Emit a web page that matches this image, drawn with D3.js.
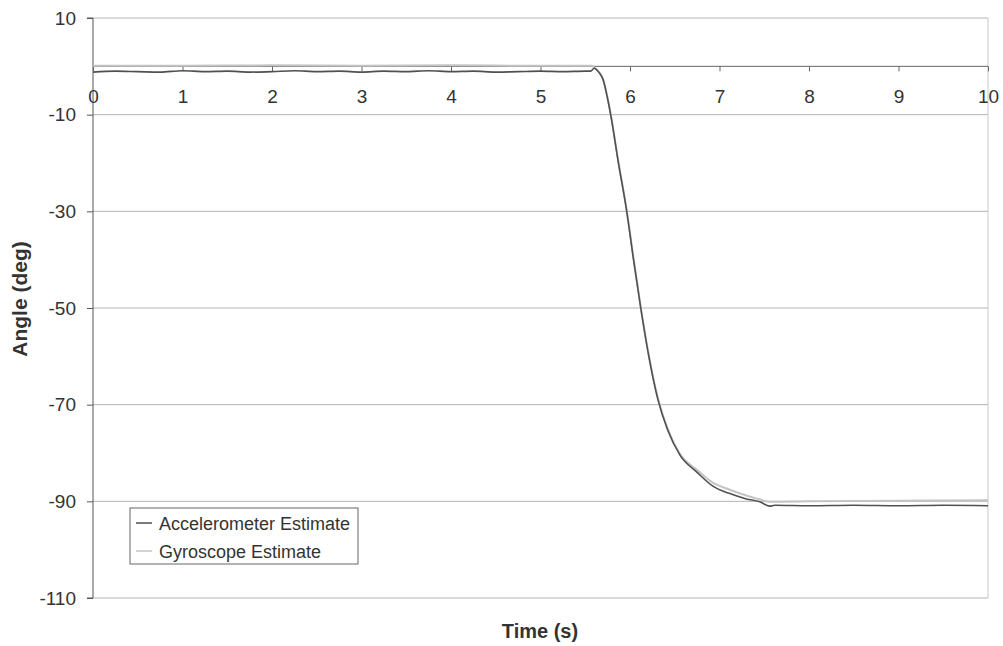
<!DOCTYPE html>
<html>
<head>
<meta charset="utf-8">
<script src="https://cdn.jsdelivr.net/npm/d3@7"></script>
<style>
  html, body { margin: 0; padding: 0; background: #fff; }
  svg { display: block; font-family: "Liberation Sans", Arial, sans-serif; }
</style>
</head>
<body>
<svg id="chart" width="1003" height="646"></svg>
<script>
// Tilt angle estimates over a 10 s recording
const accelTime = [0, 0.25, 0.5, 0.75, 1, 1.25, 1.5, 1.75, 2, 2.25, 2.5, 2.75, 3, 3.25, 3.5, 3.75, 4, 4.25, 4.5, 4.75, 5, 5.25, 5.5, 5.56, 5.6, 5.65, 5.70, 5.745, 5.784, 5.87, 5.963, 6.04, 6.12, 6.21, 6.313, 6.42, 6.56, 6.75, 6.93, 7.1, 7.3, 7.45, 7.56, 7.62, 8, 8.5, 9, 9.5, 10];
const accelAngle = [-1.2, -1.0, -1.1, -1.2, -0.9, -1.1, -1.0, -1.2, -1.1, -0.9, -1.1, -1.0, -1.2, -1.0, -1.1, -0.9, -1.1, -1.0, -1.2, -1.1, -1.0, -1.1, -1.0, -1.0, -0.4, -1.2, -2.8, -6.3, -10.0, -19.9, -30.0, -40.1, -50.0, -60.0, -69.0, -75.2, -80.5, -84.0, -86.9, -88.3, -89.5, -90.1, -91.0, -90.8, -90.9, -90.8, -90.9, -90.8, -90.9];

const gyroTime = [0, 1, 2, 3, 4, 5, 5.57, 5.6, 5.65, 5.70, 5.745, 5.784, 5.87, 5.963, 6.04, 6.12, 6.21, 6.313, 6.42, 6.56, 6.75, 6.93, 7.1, 7.3, 7.45, 7.56, 8, 9, 10];
const gyroAngle = [0.1, 0.1, 0.2, 0.1, 0.2, 0.1, 0.1, -0.3, -1.1, -2.7, -6.1, -9.8, -19.7, -29.7, -39.7, -49.8, -59.7, -68.8, -74.9, -80.2, -83.5, -86.2, -87.5, -88.8, -89.6, -90.1, -90.0, -89.9, -89.8];

const xTicks = [0, 1, 2, 3, 4, 5, 6, 7, 8, 9, 10];
const yTicks = [10, -10, -30, -50, -70, -90, -110];

const seriesNames = ["Accelerometer Estimate", "Gyroscope Estimate"];
const seriesColors = ["#505050", "#c4c4c4"];

const svg = d3.select("#chart");
const plotLeft = 93, plotRight = 988, plotTop = 18, plotBottom = 598;

const x = d3.scaleLinear().domain([0, 10]).range([plotLeft, plotRight]);
const y = d3.scaleLinear().domain([-110, 10]).range([plotBottom, plotTop]);

const plainNumber = d => String(d);

// horizontal gridlines
svg.append("g").selectAll("line").data(yTicks).join("line")
  .attr("x1", plotLeft).attr("x2", plotRight)
  .attr("y1", d => y(d)).attr("y2", d => y(d))
  .attr("stroke", "#b4b4b4").attr("stroke-width", 1);

// right frame edge
svg.append("line")
  .attr("x1", plotRight).attr("x2", plotRight).attr("y1", plotTop).attr("y2", plotBottom)
  .attr("stroke", "#c8c8c8").attr("stroke-width", 1);

// y axis
const yAxis = d3.axisLeft(y).tickValues(yTicks).tickSize(6).tickPadding(11).tickFormat(plainNumber);
const gy = svg.append("g").attr("transform", `translate(${plotLeft},0)`).call(yAxis);
gy.select(".domain").attr("stroke", "#555").attr("d", `M-6,${plotTop}H0V${plotBottom}H-6`);
gy.selectAll(".tick line").attr("stroke", "#555");
gy.selectAll(".tick text").attr("font-size", 19).attr("fill", "#333")
  .attr("font-family", "Liberation Sans, Arial, sans-serif");

// x axis crossing at zero
const xAxis = d3.axisBottom(x).tickValues(xTicks).tickSize(5).tickPadding(18).tickFormat(plainNumber);
const gx = svg.append("g").attr("transform", `translate(0,${y(0)})`).call(xAxis);
gx.select(".domain").attr("stroke", "#666").attr("d", `M${plotLeft},0H${plotRight}`);
gx.selectAll(".tick line").attr("stroke", "#666");
gx.selectAll(".tick text").attr("font-size", 19).attr("fill", "#333")
  .attr("font-family", "Liberation Sans, Arial, sans-serif");

// series lines
const line = d3.line().x(d => x(d[0])).y(d => y(d[1])).curve(d3.curveMonotoneX);
const gyroPts = d3.zip(gyroTime, gyroAngle);
const accelPts = d3.zip(accelTime, accelAngle);

svg.append("path").datum(gyroPts).attr("d", line)
  .attr("fill", "none").attr("stroke", seriesColors[1]).attr("stroke-width", 2);
svg.append("path").datum(accelPts).attr("d", line)
  .attr("fill", "none").attr("stroke", seriesColors[0]).attr("stroke-width", 1.6);

// axis titles
svg.append("text").attr("x", 540).attr("y", 638).attr("text-anchor", "middle")
  .attr("font-size", 20).attr("font-weight", "bold").attr("fill", "#333").text("Time (s)");
svg.append("text").attr("transform", "translate(27,299) rotate(-90)").attr("text-anchor", "middle")
  .attr("font-size", 21).attr("font-weight", "bold").attr("fill", "#333").text("Angle (deg)");

// legend
const lg = svg.append("g").attr("transform", "translate(130,508)");
lg.append("rect").attr("width", 228).attr("height", 56)
  .attr("fill", "#fff").attr("stroke", "#666").attr("stroke-width", 1);
seriesNames.forEach((name, i) => {
  const cy = 15 + i * 28;
  lg.append("line").attr("x1", 6).attr("x2", 22).attr("y1", cy).attr("y2", cy)
    .attr("stroke", seriesColors[i]).attr("stroke-width", 1.5);
  lg.append("text").attr("x", 29).attr("y", cy + 6.5).attr("font-size", 18)
    .attr("fill", "#333").text(name);
});
</script>
</body>
</html>
